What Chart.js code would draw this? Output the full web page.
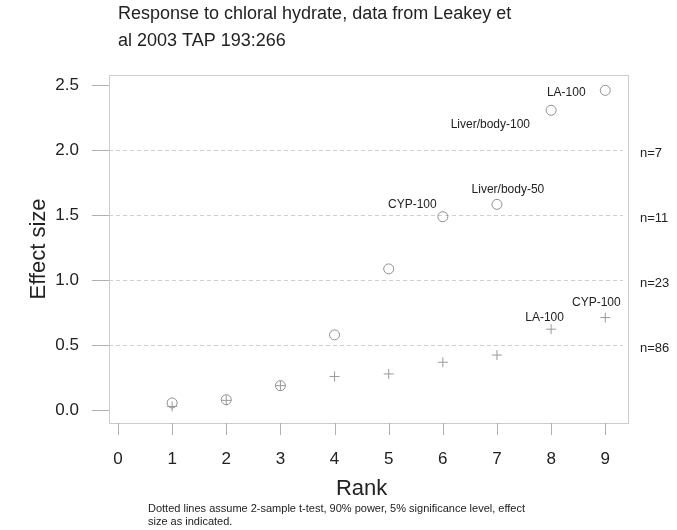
<!DOCTYPE html>
<html>
<head>
<meta charset="utf-8">
<script src="https://cdn.jsdelivr.net/npm/chart.js@4"></script>
<style>
  body { margin: 0; background: #fff; }
  #wrap { width: 677px; height: 530px; }
</style>
</head>
<body>
<div id="wrap"><canvas id="effectChart"></canvas></div>
<script>
// Ranks and effect sizes
var ranks = [1, 2, 3, 4, 5, 6, 7, 8, 9];
var circleEffect = [0.057, 0.082, 0.19, 0.58, 1.087, 1.488, 1.583, 2.306, 2.459];
var plusEffect = [0.03, 0.077, 0.19, 0.26, 0.28, 0.37, 0.425, 0.624, 0.713];

// Axis ticks
var xTicks = [0, 1, 2, 3, 4, 5, 6, 7, 8, 9];
var yTicks = [0.0, 0.5, 1.0, 1.5, 2.0, 2.5];

// Reference lines (effect size) with the sample size each needs
var refEffect = [2.0, 1.5, 1.0, 0.5];
var refN = ['n=7', 'n=11', 'n=23', 'n=86'];

// Point labels, placed in data units like text(x, y, label)
var labelText = ['LA-100', 'Liver/body-100', 'Liver/body-50', 'CYP-100', 'LA-100', 'CYP-100'];
var labelX = [8.28, 6.877, 7.202, 5.437, 7.88, 8.835];
var labelY = [2.439, 2.199, 1.692, 1.583, 0.709, 0.831];

var FONT = '"Liberation Sans", Arial, Helvetica, sans-serif';

function pts(ys) {
    return ranks.map(function (r, i) { return { x: r, y: ys[i] }; });
}

// Draws the frame, axes, reference lines and text the way the original R plot did
var decorations = {
    id: 'decorations',
    beforeDatasetsDraw: function (chart) {
        var ctx = chart.ctx, a = chart.chartArea;
        var xs = chart.scales.x, ys = chart.scales.y;
        ctx.save();

        // dashed reference lines
        ctx.strokeStyle = '#cfcfcf';
        ctx.lineWidth = 1;
        ctx.setLineDash([4, 3]);
        refEffect.forEach(function (v) {
            var y = Math.round(ys.getPixelForValue(v)) + 0.5;
            ctx.beginPath();
            ctx.moveTo(a.left, y);
            ctx.lineTo(a.right - 5, y);
            ctx.stroke();
        });
        ctx.setLineDash([]);

        // frame
        ctx.strokeStyle = '#cccccc';
        ctx.strokeRect(Math.round(a.left) + 0.5, Math.round(a.top) + 0.5,
            Math.round(a.right - a.left), Math.round(a.bottom - a.top));

        // ticks
        ctx.strokeStyle = '#b0b0b0';
        ctx.beginPath();
        yTicks.forEach(function (v) {
            var y = Math.round(ys.getPixelForValue(v)) + 0.5;
            ctx.moveTo(a.left - 17, y);
            ctx.lineTo(a.left, y);
        });
        xTicks.forEach(function (v) {
            var x = Math.round(xs.getPixelForValue(v)) + 0.5;
            ctx.moveTo(x, a.bottom);
            ctx.lineTo(x, a.bottom + 12);
        });
        ctx.stroke();

        // tick labels
        ctx.fillStyle = '#222';
        ctx.font = '17px ' + FONT;
        ctx.textAlign = 'right';
        ctx.textBaseline = 'middle';
        yTicks.forEach(function (v) {
            ctx.fillText(v.toFixed(1), 79, ys.getPixelForValue(v));
        });
        ctx.textAlign = 'center';
        xTicks.forEach(function (v) {
            ctx.fillText(String(v), xs.getPixelForValue(v), 459);
        });

        // axis titles
        ctx.font = '22px ' + FONT;
        ctx.textBaseline = 'alphabetic';
        ctx.fillText('Rank', xs.getPixelForValue(4.5), 495);
        ctx.save();
        ctx.translate(45, (a.top + a.bottom) / 2);
        ctx.rotate(-Math.PI / 2);
        ctx.fillText('Effect size', 0, 0);
        ctx.restore();

        // main title
        ctx.textAlign = 'left';
        ctx.font = '18px ' + FONT;
        ctx.fillText('Response to chloral hydrate, data from Leakey et', 118, 19);
        ctx.fillText('al 2003 TAP 193:266', 118, 46);

        // footnote
        ctx.font = '11px ' + FONT;
        ctx.fillText('Dotted lines assume 2-sample t-test, 90% power, 5% significance level, effect', 148, 512);
        ctx.fillText('size as indicated.', 148, 525);

        // sample size labels in the right margin
        ctx.font = '13px ' + FONT;
        ctx.textBaseline = 'middle';
        refEffect.forEach(function (v, i) {
            ctx.fillText(refN[i], a.right + 12, ys.getPixelForValue(v) + 3);
        });

        // point labels
        ctx.font = '12px ' + FONT;
        ctx.textAlign = 'center';
        labelText.forEach(function (t, i) {
            ctx.fillText(t, xs.getPixelForValue(labelX[i]), ys.getPixelForValue(labelY[i]));
        });

        ctx.restore();
    }
};

new Chart(document.getElementById('effectChart'), {
    type: 'scatter',
    data: {
        datasets: [{
            data: pts(circleEffect),
            pointStyle: 'circle',
            pointRadius: 5,
            borderWidth: 1,
            borderColor: '#8f8f8f',
            backgroundColor: 'rgba(0,0,0,0)'
        }, {
            data: pts(plusEffect),
            pointStyle: 'cross',
            pointRadius: 5,
            borderWidth: 1,
            borderColor: '#9a9a9a',
            backgroundColor: 'rgba(0,0,0,0)'
        }]
    },
    options: {
        responsive: true,
        maintainAspectRatio: false,
        animation: false,
        layout: { padding: { left: 109, right: 49, top: 75, bottom: 107 } },
        scales: {
            x: { type: 'linear', display: false, min: -0.166, max: 9.42 },
            y: { type: 'linear', display: false, min: -0.097, max: 2.577 }
        },
        plugins: {
            legend: { display: false },
            title: { display: false },
            tooltip: { enabled: false }
        }
    },
    plugins: [decorations]
});
</script>
</body>
</html>
